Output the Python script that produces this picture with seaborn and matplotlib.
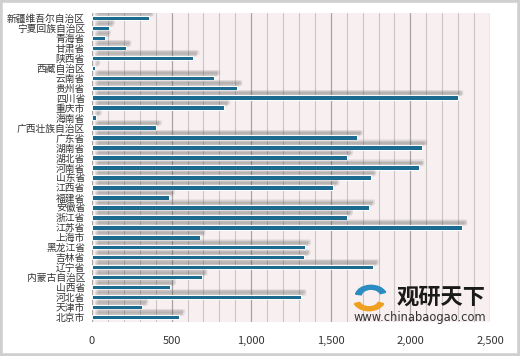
import matplotlib
matplotlib.use('Agg')
import matplotlib.pyplot as plt
import seaborn as sns
import pandas as pd
from matplotlib import patheffects as pe
from matplotlib.patches import Rectangle, Wedge
from matplotlib.ticker import MultipleLocator, FuncFormatter

provinces = ['新疆维吾尔自治区', '宁夏回族自治区', '青海省', '甘肃省', '陕西省', '西藏自治区',
             '云南省', '贵州省', '四川省', '重庆市', '海南省', '广西壮族自治区', '广东省',
             '湖南省', '湖北省', '河南省', '山东省', '江西省', '福建省', '安徽省', '浙江省',
             '江苏省', '上海市', '黑龙江省', '吉林省', '辽宁省', '内蒙古自治区', '山西省',
             '河北省', '天津市', '北京市']
values = [355, 108, 82, 213, 636, 16,
          768, 909, 2297, 831, 25, 402, 1665,
          2070, 1602, 2053, 1752, 1516, 484, 1741, 1602,
          2322, 678, 1338, 1334, 1767, 690, 490,
          1311, 317, 547]
x_ticks = [0, 500, 1000, 1500, 2000, 2500]

sns.set_theme(style='white')
plt.rcParams['font.family'] = ['Noto Sans CJK SC', 'DejaVu Sans']

fig = plt.figure(figsize=(5.2, 3.56), dpi=100)
fig.patch.set_facecolor('white')
ax = fig.add_axes([92 / 520, 1 - 322 / 356, (490 - 92) / 520, (322 - 13) / 356])
ax.set_facecolor('#f8f0f0')

df = pd.DataFrame({'province': provinces, 'value': values})
sns.barplot(data=df, x='value', y='province', orient='h', color='#1b6a8f',
            width=0.45, saturation=1, edgecolor='white', linewidth=0.7,
            ax=ax, zorder=3)

# soft drop shadow (up-right), approximated by stacked translucent shadows
shadow = []
for ox, oy, a in [(2.0, 2.2, 0.09), (3.0, 3.2, 0.12), (4.0, 4.2, 0.09),
                  (2.5, 3.8, 0.07), (3.5, 2.6, 0.07), (4.5, 3.4, 0.05)]:
    shadow.append(pe.SimplePatchShadow(offset=(ox, oy), shadow_rgbFace='#606060', alpha=a))
for p in ax.patches:
    p.set_path_effects(shadow + [pe.Normal()])

ax.set_xlim(0, 2500)
ax.set_xticks(x_ticks)
ax.xaxis.set_minor_locator(MultipleLocator(100))
ax.xaxis.set_major_formatter(FuncFormatter(lambda v, _: f'{int(v):,}'))
ax.grid(axis='x', which='minor', color='#cbc5c5', lw=0.8)
ax.grid(axis='x', which='major', color='#a8a4a4', lw=0.9)
ax.grid(axis='y', visible=False)
ax.set_axisbelow(True)
for s in ax.spines.values():
    s.set_visible(False)
ax.set_xlabel('')
ax.set_ylabel('')
ax.tick_params(axis='y', length=0, pad=5, labelsize=7, labelcolor='#333333')
ax.tick_params(axis='x', which='both', length=0, pad=10, labelsize=8, labelcolor='#333333')

# watermark
fig.text(441 / 520, 1 - 297 / 356, '观研天下', fontsize=16, fontweight='bold',
         color='#1a1a1a', ha='center', va='center')
fig.text(420 / 520, 1 - 317 / 356, 'www.chinabaogao.com', fontsize=8.3,
         color='#333333', ha='center', va='center', family='DejaVu Sans')
fig.patches.append(Wedge((369 / 520, 1 - 300 / 356), 0.03, 200, 340, width=0.011,
                         transform=fig.transFigure, color='#f0a020'))
fig.patches.append(Wedge((371 / 520, 1 - 296 / 356), 0.03, 20, 170, width=0.011,
                         transform=fig.transFigure, color='#2a8cc0'))

fig.patches.append(Rectangle((0, 0), 1, 1, transform=fig.transFigure, fill=False,
                             edgecolor='#cfcfcf', lw=4))

fig.savefig('out.png', dpi=100)
